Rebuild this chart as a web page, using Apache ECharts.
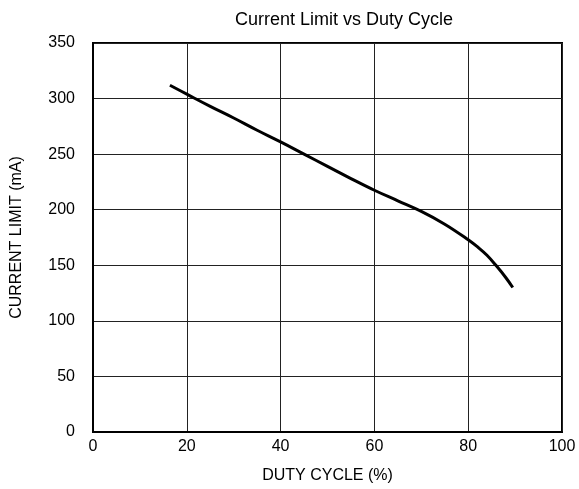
<!DOCTYPE html>
<html>
<head>
<meta charset="utf-8">
<script src="https://cdn.jsdelivr.net/npm/echarts@6/dist/echarts.min.js"></script>
<style>html,body{margin:0;padding:0;background:#fff;}#chart{width:579px;height:489px;}</style>
</head>
<body>
<div id="chart"></div>
<script>
var titleText = 'Current Limit vs Duty Cycle';
var xAxisName = 'DUTY CYCLE (%)';
var yAxisName = 'CURRENT LIMIT (mA)';
var dutyCycle = [16.4, 20, 25, 30, 35, 40, 45, 50, 55, 60, 65, 70, 75, 80, 82, 84, 86, 88, 89.5];
var currentLimit = [312, 304, 293, 282.5, 271.5, 261, 250, 239, 228, 217.5, 208, 198.5, 187, 173, 166.5, 159, 149.5, 139, 130];

var chart = echarts.init(document.getElementById('chart'));
var font = 'Liberation Sans, Arial, sans-serif';
chart.setOption({
  animation: false,
  title: {
    text: titleText,
    left: 339,
    top: 6,
    textAlign: 'center',
    textStyle: {fontFamily: font, fontSize: 18, fontWeight: 'normal', color: '#000'}
  },
  grid: {left: 93, right: 17, top: 43, bottom: 57, show: true, borderColor: '#000', borderWidth: 2, backgroundColor: '#fff'},
  xAxis: {
    type: 'value', min: 0, max: 100, interval: 20,
    name: xAxisName, nameLocation: 'middle', nameGap: 36,
    nameTextStyle: {fontFamily: font, fontSize: 16, color: '#000'},
    axisLine: {show: true, lineStyle: {color: '#000', width: 2}},
    axisTick: {show: false},
    axisLabel: {fontFamily: font, fontSize: 16, color: '#000', margin: 7},
    splitLine: {show: true, lineStyle: {color: '#222', width: 1}}
  },
  yAxis: {
    type: 'value', min: 0, max: 350, interval: 50,
    name: yAxisName, nameLocation: 'middle', nameGap: 68,
    nameTextStyle: {fontFamily: font, fontSize: 16, color: '#000'},
    axisLine: {show: true, lineStyle: {color: '#000', width: 2}},
    axisTick: {show: false},
    axisLabel: {fontFamily: font, fontSize: 16, color: '#000', margin: 18},
    splitLine: {show: true, lineStyle: {color: '#222', width: 1}}
  },
  series: [{
    type: 'line',
    data: dutyCycle.map(function (x, i) { return [x, currentLimit[i]]; }),
    smooth: 0.4,
    showSymbol: false,
    lineStyle: {color: '#000', width: 3}
  }]
});
</script>
</body>
</html>
